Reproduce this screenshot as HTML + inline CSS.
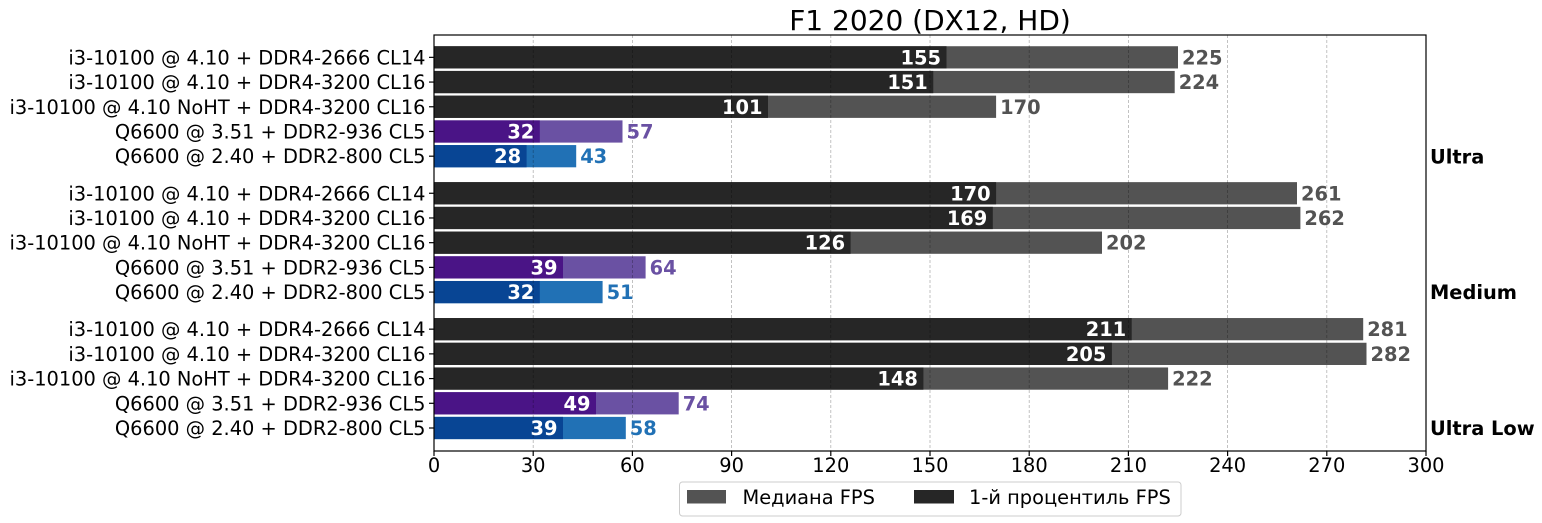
<!DOCTYPE html>
<html><head><meta charset="utf-8"><style>
html,body{margin:0;padding:0;background:#fff;}
svg{display:block;font-family:"DejaVu Sans","Liberation Sans",sans-serif;}
</style></head><body>
<svg width="1542" height="523" viewBox="0 0 1542 523" xmlns="http://www.w3.org/2000/svg">
<rect width="1542" height="523" fill="#fff"/>
<text x="930" y="30" font-size="28" text-anchor="middle" fill="#000">F1 2020 (DX12, HD)</text>

<!-- bars: median -->
<g>
<rect x="434" y="46.23" width="744.0" height="22.24" fill="#535353"/>
<rect x="434" y="46.23" width="512.5" height="22.24" fill="#262626"/>
<rect x="434" y="70.94" width="740.7" height="22.24" fill="#535353"/>
<rect x="434" y="70.94" width="499.3" height="22.24" fill="#262626"/>
<rect x="434" y="95.65" width="562.1" height="22.24" fill="#535353"/>
<rect x="434" y="95.65" width="334.0" height="22.24" fill="#262626"/>
<rect x="434" y="120.36" width="188.5" height="22.24" fill="#6a51a3"/>
<rect x="434" y="120.36" width="105.8" height="22.24" fill="#4a1486"/>
<rect x="434" y="145.07" width="142.2" height="22.24" fill="#2171b5"/>
<rect x="434" y="145.07" width="92.6" height="22.24" fill="#084594"/>

<rect x="434" y="182.14" width="863.0" height="22.24" fill="#535353"/>
<rect x="434" y="182.14" width="562.1" height="22.24" fill="#262626"/>
<rect x="434" y="206.85" width="866.4" height="22.24" fill="#535353"/>
<rect x="434" y="206.85" width="558.8" height="22.24" fill="#262626"/>
<rect x="434" y="231.56" width="668.0" height="22.24" fill="#535353"/>
<rect x="434" y="231.56" width="416.6" height="22.24" fill="#262626"/>
<rect x="434" y="256.27" width="211.6" height="22.24" fill="#6a51a3"/>
<rect x="434" y="256.27" width="129.0" height="22.24" fill="#4a1486"/>
<rect x="434" y="280.98" width="168.6" height="22.24" fill="#2171b5"/>
<rect x="434" y="280.98" width="105.8" height="22.24" fill="#084594"/>

<rect x="434" y="318.04" width="929.2" height="22.24" fill="#535353"/>
<rect x="434" y="318.04" width="697.7" height="22.24" fill="#262626"/>
<rect x="434" y="342.75" width="932.5" height="22.24" fill="#535353"/>
<rect x="434" y="342.75" width="677.9" height="22.24" fill="#262626"/>
<rect x="434" y="367.46" width="734.1" height="22.24" fill="#535353"/>
<rect x="434" y="367.46" width="489.4" height="22.24" fill="#262626"/>
<rect x="434" y="392.17" width="244.7" height="22.24" fill="#6a51a3"/>
<rect x="434" y="392.17" width="162.0" height="22.24" fill="#4a1486"/>
<rect x="434" y="416.88" width="191.8" height="22.24" fill="#2171b5"/>
<rect x="434" y="416.88" width="129.0" height="22.24" fill="#084594"/>
</g>

<!-- grid -->
<g stroke="#000" stroke-opacity="0.3" stroke-width="0.8" stroke-dasharray="3,2">
<line x1="533.2" y1="35" x2="533.2" y2="451"/>
<line x1="632.4" y1="35" x2="632.4" y2="451"/>
<line x1="731.6" y1="35" x2="731.6" y2="451"/>
<line x1="830.8" y1="35" x2="830.8" y2="451"/>
<line x1="930.0" y1="35" x2="930.0" y2="451"/>
<line x1="1029.2" y1="35" x2="1029.2" y2="451"/>
<line x1="1128.4" y1="35" x2="1128.4" y2="451"/>
<line x1="1227.6" y1="35" x2="1227.6" y2="451"/>
<line x1="1326.8" y1="35" x2="1326.8" y2="451"/>
</g>

<!-- spines -->
<rect x="434" y="35" width="992" height="416" fill="none" stroke="#000" stroke-width="1.2"/>

<!-- x ticks -->
<g stroke="#000" stroke-width="1.2">
<line x1="434" y1="451" x2="434" y2="456"/>
<line x1="533.2" y1="451" x2="533.2" y2="456"/>
<line x1="632.4" y1="451" x2="632.4" y2="456"/>
<line x1="731.6" y1="451" x2="731.6" y2="456"/>
<line x1="830.8" y1="451" x2="830.8" y2="456"/>
<line x1="930.0" y1="451" x2="930.0" y2="456"/>
<line x1="1029.2" y1="451" x2="1029.2" y2="456"/>
<line x1="1128.4" y1="451" x2="1128.4" y2="456"/>
<line x1="1227.6" y1="451" x2="1227.6" y2="456"/>
<line x1="1326.8" y1="451" x2="1326.8" y2="456"/>
<line x1="1426" y1="451" x2="1426" y2="456"/>
</g>
<g font-size="19.4" text-anchor="middle" fill="#000">
<text x="434" y="472">0</text>
<text x="533.2" y="472">30</text>
<text x="632.4" y="472">60</text>
<text x="731.6" y="472">90</text>
<text x="830.8" y="472">120</text>
<text x="930.0" y="472">150</text>
<text x="1029.2" y="472">180</text>
<text x="1128.4" y="472">210</text>
<text x="1227.6" y="472">240</text>
<text x="1326.8" y="472">270</text>
<text x="1426" y="472">300</text>
</g>

<!-- y ticks -->
<g stroke="#000" stroke-width="1.2">
<line x1="429" y1="57.35" x2="434" y2="57.35"/>
<line x1="429" y1="82.06" x2="434" y2="82.06"/>
<line x1="429" y1="106.77" x2="434" y2="106.77"/>
<line x1="429" y1="131.48" x2="434" y2="131.48"/>
<line x1="429" y1="156.19" x2="434" y2="156.19"/>
<line x1="429" y1="193.26" x2="434" y2="193.26"/>
<line x1="429" y1="217.97" x2="434" y2="217.97"/>
<line x1="429" y1="242.68" x2="434" y2="242.68"/>
<line x1="429" y1="267.39" x2="434" y2="267.39"/>
<line x1="429" y1="292.10" x2="434" y2="292.10"/>
<line x1="429" y1="329.16" x2="434" y2="329.16"/>
<line x1="429" y1="353.87" x2="434" y2="353.87"/>
<line x1="429" y1="378.58" x2="434" y2="378.58"/>
<line x1="429" y1="403.29" x2="434" y2="403.29"/>
<line x1="429" y1="428.00" x2="434" y2="428.00"/>
</g>
<g font-size="19.4" text-anchor="end" fill="#000">
<text x="425.5" y="64.35">i3-10100 @ 4.10 + DDR4-2666 CL14</text>
<text x="425.5" y="89.06">i3-10100 @ 4.10 + DDR4-3200 CL16</text>
<text x="425.5" y="113.77">i3-10100 @ 4.10 NoHT + DDR4-3200 CL16</text>
<text x="425.5" y="138.48">Q6600 @ 3.51 + DDR2-936 CL5</text>
<text x="425.5" y="163.19">Q6600 @ 2.40 + DDR2-800 CL5</text>
<text x="425.5" y="200.26">i3-10100 @ 4.10 + DDR4-2666 CL14</text>
<text x="425.5" y="224.97">i3-10100 @ 4.10 + DDR4-3200 CL16</text>
<text x="425.5" y="249.68">i3-10100 @ 4.10 NoHT + DDR4-3200 CL16</text>
<text x="425.5" y="274.39">Q6600 @ 3.51 + DDR2-936 CL5</text>
<text x="425.5" y="299.10">Q6600 @ 2.40 + DDR2-800 CL5</text>
<text x="425.5" y="336.16">i3-10100 @ 4.10 + DDR4-2666 CL14</text>
<text x="425.5" y="360.87">i3-10100 @ 4.10 + DDR4-3200 CL16</text>
<text x="425.5" y="385.58">i3-10100 @ 4.10 NoHT + DDR4-3200 CL16</text>
<text x="425.5" y="410.29">Q6600 @ 3.51 + DDR2-936 CL5</text>
<text x="425.5" y="435.00">Q6600 @ 2.40 + DDR2-800 CL5</text>
</g>

<!-- inside labels -->
<g font-size="19.4" font-weight="bold" text-anchor="end" fill="#fff">
<text x="941.0" y="64.35">155</text>
<text x="927.8" y="89.06">151</text>
<text x="762.5" y="113.77">101</text>
<text x="534.3" y="138.48">32</text>
<text x="521.1" y="163.19">28</text>
<text x="990.6" y="200.26">170</text>
<text x="987.3" y="224.97">169</text>
<text x="845.1" y="249.68">126</text>
<text x="557.5" y="274.39">39</text>
<text x="534.3" y="299.10">32</text>
<text x="1126.2" y="336.16">211</text>
<text x="1106.4" y="360.87">205</text>
<text x="917.9" y="385.58">148</text>
<text x="590.5" y="410.29">49</text>
<text x="557.5" y="435.00">39</text>
</g>

<!-- outside labels -->
<g font-size="19.4" font-weight="bold">
<text x="1182.0" y="64.35" fill="#535353">225</text>
<text x="1178.7" y="89.06" fill="#535353">224</text>
<text x="1000.1" y="113.77" fill="#535353">170</text>
<text x="626.5" y="138.48" fill="#6a51a3">57</text>
<text x="580.2" y="163.19" fill="#2171b5">43</text>
<text x="1301.0" y="200.26" fill="#535353">261</text>
<text x="1304.4" y="224.97" fill="#535353">262</text>
<text x="1106.0" y="249.68" fill="#535353">202</text>
<text x="649.6" y="274.39" fill="#6a51a3">64</text>
<text x="606.6" y="299.10" fill="#2171b5">51</text>
<text x="1367.2" y="336.16" fill="#535353">281</text>
<text x="1370.5" y="360.87" fill="#535353">282</text>
<text x="1172.1" y="385.58" fill="#535353">222</text>
<text x="682.7" y="410.29" fill="#6a51a3">74</text>
<text x="629.8" y="435.00" fill="#2171b5">58</text>
</g>

<!-- group labels -->
<g font-size="19.4" font-weight="bold" fill="#000">
<text x="1430" y="163.3">Ultra</text>
<text x="1430" y="299.1">Medium</text>
<text x="1430" y="435.0">Ultra Low</text>
</g>

<!-- legend -->
<rect x="679.5" y="482" width="501.5" height="34" rx="3" ry="3" fill="#fff" fill-opacity="0.8" stroke="#cccccc" stroke-width="1"/>
<rect x="687" y="490" width="39" height="13.5" fill="#535353"/>
<text x="742.5" y="504" font-size="19.4" fill="#000">Медиана FPS</text>
<rect x="914" y="490" width="40" height="13.5" fill="#262626"/>
<text x="969" y="504" font-size="19.4" fill="#000">1-й процентиль FPS</text>
</svg>
</body></html>
